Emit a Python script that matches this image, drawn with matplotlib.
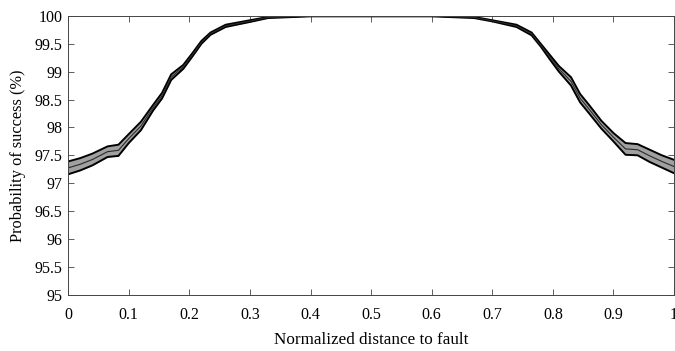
#! /usr/bin/env python3
# coding: utf-8

import matplotlib
matplotlib.use('Agg')
import matplotlib.pyplot as plt
import numpy as np

# normalized distance to fault
distance = [0, 0.02, 0.04, 0.065, 0.083, 0.1, 0.12, 0.14, 0.155, 0.17, 0.19,
            0.205, 0.22, 0.235, 0.26, 0.3, 0.33, 0.4, 0.5, 0.6, 0.67, 0.7,
            0.74, 0.765, 0.78, 0.795, 0.81, 0.83, 0.845, 0.86, 0.88, 0.9,
            0.92, 0.94, 0.96, 0.98, 1.0]
# upper / lower bound of probability of success (%)
upper = [97.39, 97.45, 97.53, 97.66, 97.69, 97.88, 98.10, 98.40, 98.62, 98.95,
         99.12, 99.33, 99.55, 99.70, 99.84, 99.92, 99.98, 100.0, 100.0, 100.0,
         99.98, 99.92, 99.84, 99.70, 99.50, 99.30, 99.10, 98.90, 98.60, 98.40,
         98.12, 97.90, 97.72, 97.70, 97.60, 97.50, 97.42]
lower = [97.16, 97.23, 97.32, 97.47, 97.49, 97.72, 97.95, 98.30, 98.52, 98.85,
         99.05, 99.27, 99.50, 99.66, 99.80, 99.89, 99.96, 99.99, 99.99, 99.99,
         99.96, 99.90, 99.80, 99.65, 99.45, 99.22, 99.00, 98.75, 98.45, 98.25,
         97.98, 97.75, 97.51, 97.50, 97.38, 97.28, 97.18]

plt.rcParams['font.family'] = ['Liberation Serif', 'DejaVu Serif']

x = np.array(distance)
up = np.array(upper)
lo = np.array(lower)
mid = (up + lo) / 2

fig = plt.figure(figsize=(6.75, 3.51), dpi=100)
ax = fig.add_axes([0.101, 0.16, 0.8975, 0.795])

ax.fill_between(x, lo, up, color='#a0a0a0', lw=0)
ax.plot(x, up, color='black', lw=1.4)
ax.plot(x, lo, color='black', lw=1.4)
ax.plot(x, mid, color='#2a2a2a', lw=0.8)

ax.set_xlim(0, 1)
ax.set_ylim(95, 100)
ax.set_xticks(np.arange(0, 1.01, 0.1))
ax.set_xticklabels(['0', '0.1', '0.2', '0.3', '0.4', '0.5', '0.6', '0.7',
                    '0.8', '0.9', '1'])
ax.set_yticks(np.arange(95, 100.01, 0.5))
ax.set_yticklabels(['95', '95.5', '96', '96.5', '97', '97.5', '98', '98.5',
                    '99', '99.5', '100'])
ax.tick_params(direction='in', top=True, right=True, labelsize=11.5,
               length=4, width=0.6, color='#444444')
ax.tick_params(axis='x', pad=9)
ax.tick_params(axis='y', pad=4)
for s in ax.spines.values():
    s.set_linewidth(0.7)
    s.set_color('#444444')

ax.set_xlabel('Normalized distance to fault', fontsize=12.3, labelpad=6)
ax.set_ylabel('Probability of success (%)', fontsize=11.8, labelpad=6)

fig.savefig('out.png', dpi=100)
